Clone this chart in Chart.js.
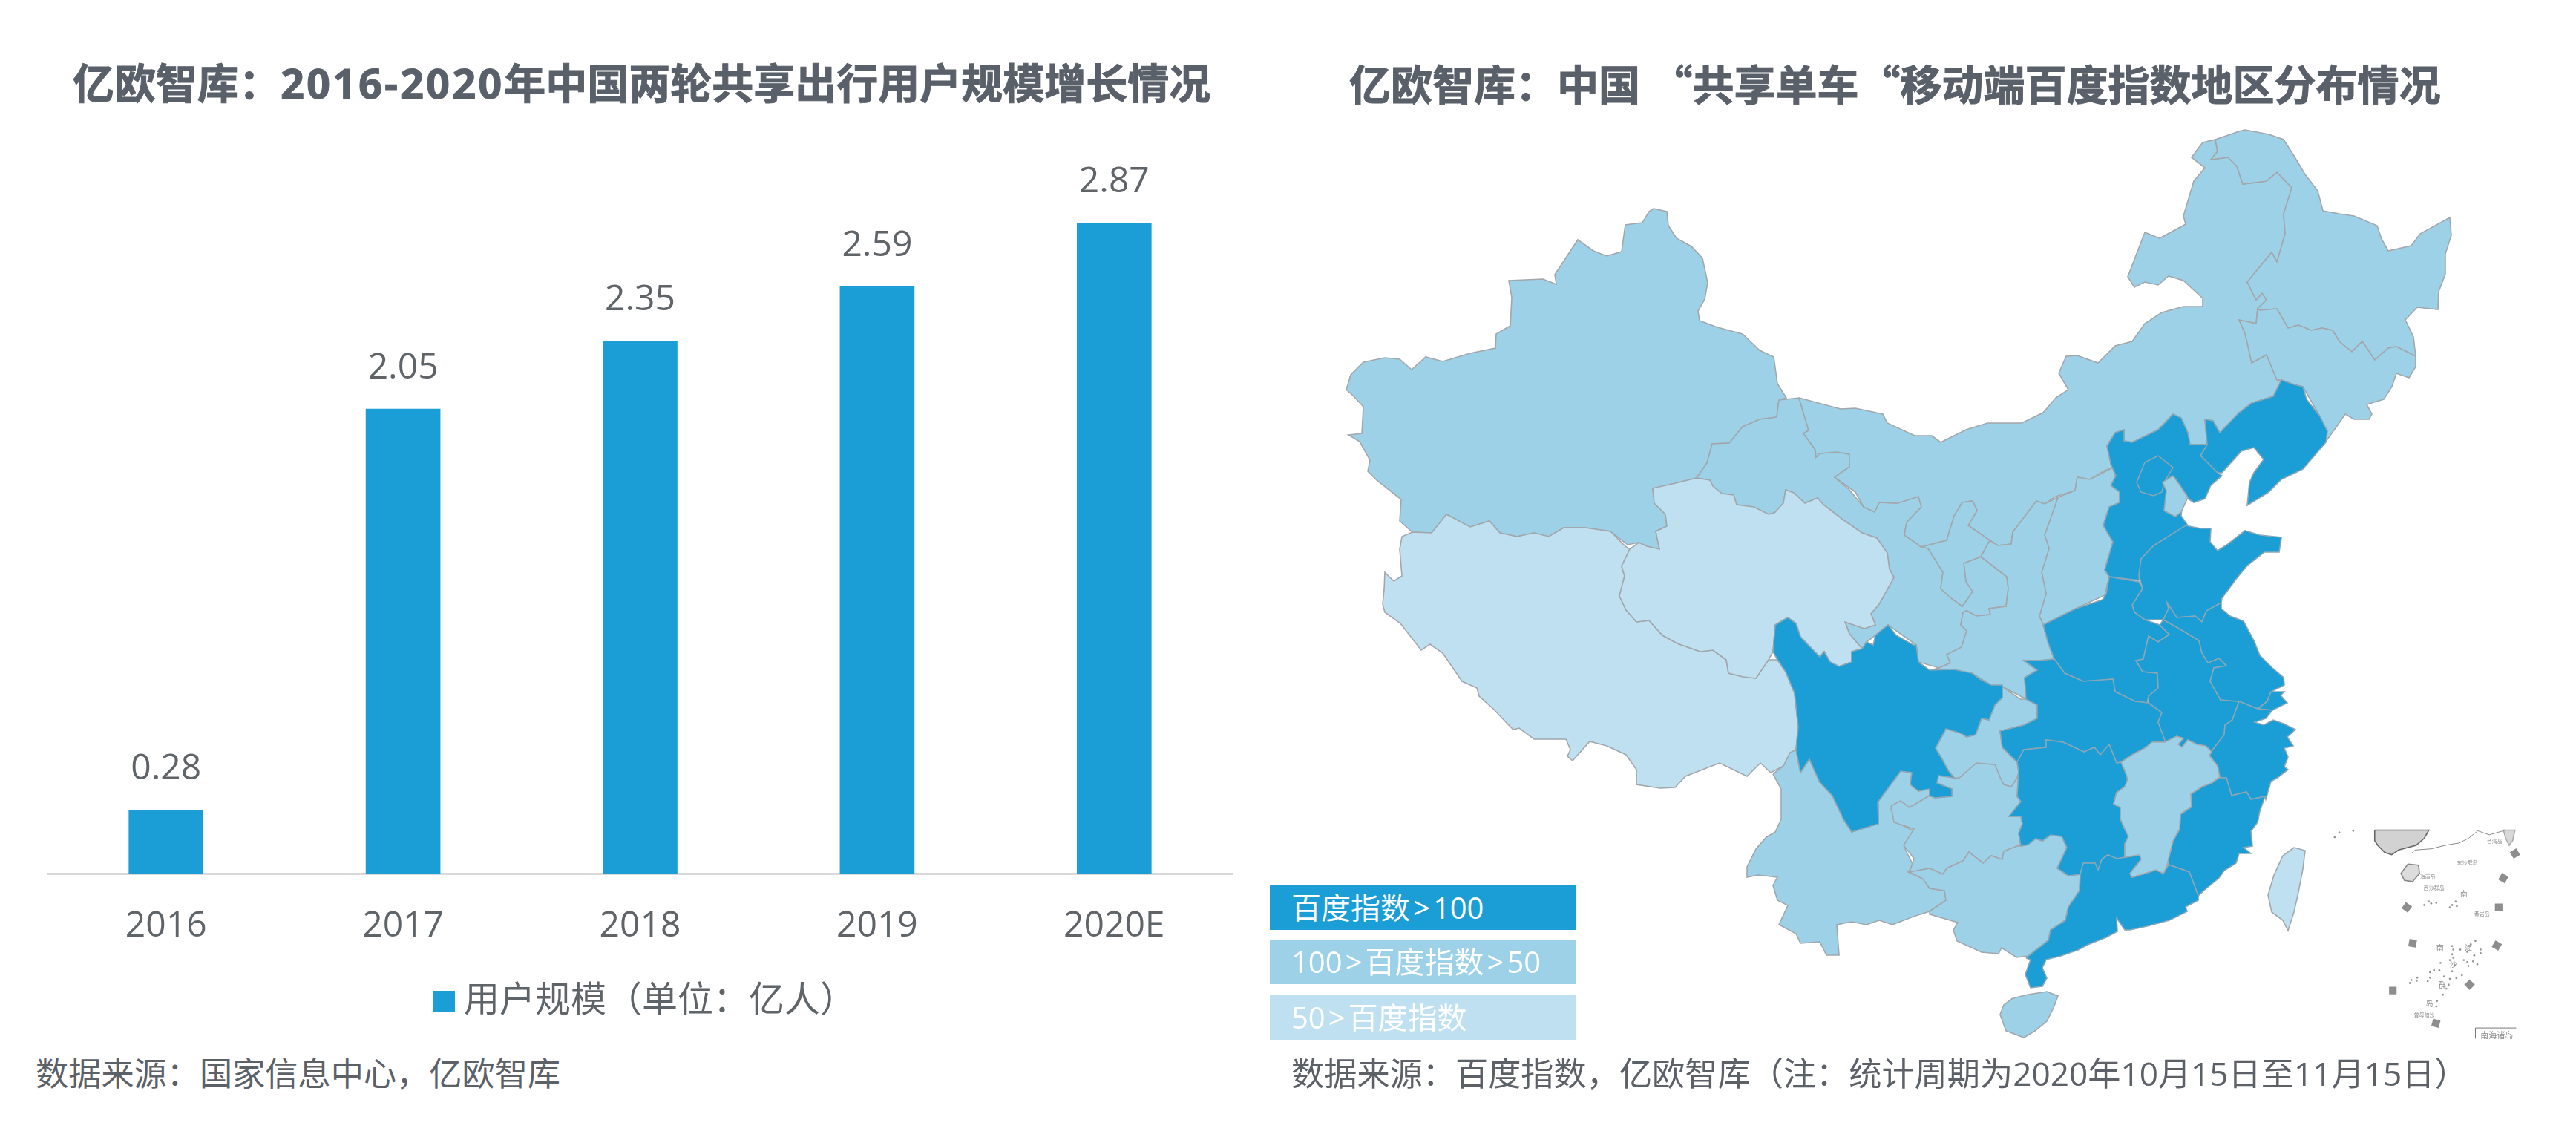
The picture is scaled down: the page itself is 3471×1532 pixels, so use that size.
<!DOCTYPE html>
<html lang="zh-CN">
<head>
<meta charset="utf-8">
<title>亿欧智库</title>
<script src="https://cdn.jsdelivr.net/npm/chart.js@4/dist/chart.umd.js"></script>
<style>
  html, body { margin: 0; padding: 0; background: #fff; }
  body { position: relative; width: 3471px; height: 1532px; overflow: hidden;
         font-family: "Open Sans", "Noto Sans CJK SC", sans-serif; }
  canvas { position: absolute; display: block; }
  .texto { position: absolute; white-space: nowrap; line-height: 1; }
  .titulo { font-size: 56px; font-weight: 700; color: #5a6069; top: 83px; -webkit-text-stroke: 1px #5a6069; }
  .titulo .cifra { letter-spacing: 3px; }
  .titulo .comilla { font-family: "Noto Sans CJK SC", sans-serif; }
  .fuente { font-size: 44.2px; color: #5c6168; top: 1424px; }
  .caja { position: absolute; left: 1711px; width: 413px; height: 60px; color: #fff;
          font-size: 40px; line-height: 60px; text-indent: 29px; white-space: nowrap; }
  .caja i { font-style: normal; margin: 0 4px; }
</style>
</head>
<body>
<div class="texto titulo" style="left:98px">亿欧智库：<span class="cifra">2016-2020</span>年中国两轮共享出行用户规模增长情况</div>
<div class="texto titulo" style="left:1818px">亿欧智库：中国 <span class="comilla">“</span>共享单车<span class="comilla">“</span>移动端百度指数地区分布情况</div>
<canvas id="barras" width="1736" height="1383" style="left:0;top:0"></canvas>
<canvas id="mapa" width="1660" height="1300" style="left:1700px;top:150px"></canvas>
<canvas id="islas" width="300" height="340" style="left:3130px;top:1090px;filter:blur(.5px)"></canvas>
<div class="caja" style="top:1193px;background:#1b9dd6">百度指数<i>&gt;</i>100</div>
<div class="caja" style="top:1266px;background:#9dd1e7">100<i>&gt;</i>百度指数<i>&gt;</i>50</div>
<div class="caja" style="top:1341px;background:#bfe0f1">50<i>&gt;</i>百度指数</div>
<div class="texto fuente" style="left:48px">数据来源：国家信息中心，亿欧智库</div>
<div class="texto fuente" style="left:1740px">数据来源：百度指数，亿欧智库（注：统计周期为2020年10月15日至11月15日）</div>

<script>
/* Bar chart data */
const years = ['2016', '2017', '2018', '2019', '2020E'];
const users = [0.28, 2.05, 2.35, 2.59, 2.87];
const seriesName = '用户规模（单位：亿人）';

/* Province outlines, read off the picture as x,y pairs. The map scale below
 * runs in picture units, so the library still places every vertex. */
const xinjiang = [2228,281, 2246,285, 2248,304, 2259,321, 2279,332, 2294,348, 2301,381, 2297,403, 2288,419, 2290,432, 2314,441, 2348,450, 2371,472, 2390,481, 2395,517, 2407,536, 2397,539, 2394,562, 2371,565, 2348,575, 2330,597, 2307,598, 2300,624, 2286,644, 2262,650, 2227,658, 2229,678, 2244,693, 2246,709, 2231,716, 2236,740, 2219,736, 2208,731, 2193,734, 2170,716, 2136,711, 2107,711, 2087,723, 2067,718, 2044,723, 2021,718, 2007,702, 1981,710, 1949,693, 1929,718, 1903,717, 1886,702, 1888,673, 1855,647, 1843,635, 1846,620, 1832,595, 1817,586, 1835,584, 1837,548, 1823,533, 1814,525, 1820,505, 1837,488, 1866,482, 1886,484, 1902,498, 1921,481, 1944,487, 1981,476, 2015,469, 2016,450, 2035,439, 2037,401, 2033,378, 2079,376, 2097,383, 2095,370, 2126,323, 2147,338, 2165,345, 2185,339, 2190,303, 2213,300, 2222,285];
const tibet = [1863,814, 1866,825, 1887,840, 1915,876, 1927,868, 1944,880, 1970,918, 1990,927, 1993,938, 2013,956, 2030,974, 2039,983, 2047,981, 2067,996, 2110,996, 2116,1010, 2112,1019, 2119,1025, 2142,999, 2165,1005, 2191,1017, 2205,1037, 2205,1057, 2237,1062, 2257,1061, 2271,1046, 2317,1028, 2354,1046, 2372,1028, 2386,1041, 2403,1032, 2412,1014, 2420,1010, 2423,979, 2418,934, 2406,905, 2395,889, 2383,889, 2366,914, 2349,912, 2329,907, 2326,889, 2308,876, 2291,878, 2260,867, 2240,856, 2222,836, 2205,838, 2191,822, 2182,803, 2189,776, 2185,763, 2196,740, 2190,736, 2170,716, 2136,711, 2107,711, 2087,723, 2067,718, 2044,723, 2021,718, 2007,702, 1981,710, 1949,693, 1929,718, 1903,717, 1889,723, 1886,740, 1889,776, 1878,783, 1866,771, 1865,794];
const qinghai = [2182,803, 2189,776, 2185,763, 2196,740, 2208,731, 2219,736, 2236,740, 2231,716, 2246,709, 2244,693, 2229,678, 2227,658, 2262,650, 2286,644, 2304,647, 2308,655, 2320,665, 2336,667, 2340,680, 2363,683, 2383,693, 2391,691, 2403,678, 2406,660, 2417,664, 2432,678, 2449,671, 2457,680, 2483,700, 2509,718, 2529,725, 2543,745, 2546,767, 2552,778, 2546,789, 2532,814, 2521,827, 2527,842, 2512,847, 2486,838, 2492,854, 2509,874, 2495,878, 2495,892, 2478,898, 2466,892, 2458,878, 2452,885, 2426,858, 2420,840, 2409,832, 2392,842, 2389,878, 2383,889, 2366,914, 2349,912, 2329,907, 2326,889, 2308,876, 2291,878, 2260,867, 2240,856, 2222,836, 2205,838, 2191,822];
const gansu = [2397,539, 2424,536, 2437,580, 2430,584, 2446,606, 2447,616, 2452,611, 2475,609, 2492,612, 2492,629, 2472,643, 2492,660, 2511,683, 2526,690, 2532,677, 2557,678, 2585,669, 2589,683, 2569,704, 2566,721, 2589,737, 2598,739, 2618,771, 2615,793, 2629,806, 2644,817, 2658,797, 2649,784, 2646,759, 2669,750, 2704,777, 2706,793, 2703,817, 2680,820, 2682,828, 2663,830, 2650,823, 2645,825, 2642,842, 2650,850, 2643,872, 2623,882, 2628,893, 2613,900, 2585,892, 2582,869, 2544,842, 2527,856, 2515,865, 2509,874, 2492,854, 2486,838, 2512,847, 2527,842, 2521,827, 2532,814, 2546,789, 2552,778, 2546,767, 2543,745, 2529,725, 2509,718, 2483,700, 2457,680, 2449,671, 2432,678, 2417,664, 2406,660, 2403,678, 2391,691, 2383,693, 2363,683, 2340,680, 2336,667, 2320,665, 2308,655, 2304,647, 2286,644, 2300,624, 2307,598, 2330,597, 2348,575, 2371,565, 2394,562];
const innerMongolia = [2424,536, 2480,551, 2500,550, 2537,558, 2543,570, 2580,587, 2603,587, 2615,596, 2649,579, 2678,570, 2724,570, 2753,556, 2770,536, 2787,525, 2774,503, 2784,480, 2799,479, 2827,489, 2850,466, 2873,460, 2890,436, 2913,421, 2942,413, 2968,413, 2968,402, 2942,378, 2922,372, 2908,384, 2890,380, 2876,387, 2867,373, 2890,313, 2910,321, 2945,302, 2942,291, 2956,244, 2971,226, 2953,212, 2968,192, 2985,188, 2988,204, 2979,215, 3002,212, 3014,224, 3022,248, 3054,244, 3068,232, 3088,253, 3077,288, 3079,315, 3068,353, 3061,340, 3028,380, 3040,404, 3048,395, 3054,404, 3042,416, 3040,436, 3017,431, 3025,449, 3034,489, 3054,478, 3068,512, 3074,512, 3063,534, 3034,543, 3017,556, 2991,583, 2982,567, 2971,565, 2974,599, 2951,599, 2948,583, 2939,563, 2928,558, 2908,579, 2873,596, 2862,594, 2862,579, 2850,583, 2839,601, 2847,630, 2836,634, 2816,646, 2799,643, 2796,661, 2770,669, 2755,679, 2744,675, 2712,717, 2710,733, 2692,735, 2681,728, 2652,708, 2664,688, 2658,675, 2644,677, 2633,695, 2623,728, 2589,737, 2566,721, 2569,704, 2589,683, 2585,669, 2557,678, 2532,677, 2526,690, 2511,683, 2500,663, 2472,643, 2492,629, 2492,612, 2475,609, 2452,611, 2447,616, 2446,606, 2430,584, 2437,580];
const heilongjiang = [2985,188, 3017,177, 3025,175, 3057,181, 3077,188, 3091,210, 3106,235, 3123,257, 3130,284, 3152,288, 3172,291, 3203,304, 3209,322, 3218,338, 3249,331, 3261,315, 3301,293, 3303,317, 3295,342, 3295,369, 3286,393, 3285,417, 3257,414, 3241,431, 3252,454, 3255,480, 3229,467, 3218,469, 3200,485, 3183,460, 3169,474, 3152,460, 3143,445, 3129,442, 3114,445, 3097,438, 3083,442, 3068,416, 3045,418, 3042,416, 3054,404, 3048,395, 3040,404, 3028,380, 3061,340, 3068,353, 3079,315, 3077,288, 3088,253, 3068,232, 3054,244, 3022,248, 3014,224, 3002,212, 2979,215, 2988,204];
const jilin = [3045,418, 3068,416, 3083,442, 3097,438, 3114,445, 3129,442, 3143,445, 3152,460, 3169,474, 3183,460, 3200,485, 3218,469, 3229,467, 3255,480, 3255,494, 3246,509, 3229,503, 3223,521, 3212,538, 3189,545, 3196,558, 3192,565, 3172,565, 3160,558, 3149,574, 3136,592, 3126,561, 3103,521, 3091,518, 3074,512, 3068,512, 3054,478, 3034,489, 3025,449, 3017,431, 3040,436, 3042,416];
const ningxia = [2644,677, 2658,675, 2664,688, 2652,708, 2681,728, 2669,750, 2646,759, 2649,784, 2658,797, 2644,817, 2629,806, 2615,793, 2618,771, 2598,739, 2589,737, 2623,728, 2633,695];
const shaanxi = [2744,675, 2755,679, 2773,670, 2755,721, 2761,739, 2751,771, 2757,800, 2748,830, 2753,842, 2760,867, 2768,888, 2747,890, 2727,890, 2745,903, 2728,913, 2730,942, 2698,925, 2683,923, 2657,907, 2600,903, 2613,900, 2628,893, 2623,882, 2643,872, 2650,850, 2642,842, 2645,825, 2650,823, 2663,830, 2682,828, 2680,820, 2703,817, 2706,793, 2704,777, 2669,750, 2681,728, 2692,735, 2710,733, 2712,717];
const shanxi = [2773,670, 2796,661, 2799,643, 2816,646, 2847,630, 2856,663, 2856,677, 2842,683, 2834,708, 2847,730, 2836,768, 2842,777, 2836,802, 2797,820, 2753,842, 2748,830, 2757,800, 2751,771, 2761,739, 2755,721];
const yunnan = [2389,1043, 2400,1063, 2400,1104, 2392,1121, 2380,1128, 2366,1144, 2354,1168, 2354,1182, 2369,1179, 2395,1182, 2389,1193, 2395,1213, 2409,1220, 2397,1246, 2420,1258, 2426,1271, 2452,1269, 2461,1287, 2478,1287, 2475,1246, 2495,1242, 2515,1246, 2532,1240, 2550,1246, 2578,1235, 2600,1228, 2622,1213, 2620,1200, 2600,1197, 2591,1184, 2571,1175, 2578,1166, 2567,1144, 2578,1119, 2555,1108, 2548,1090, 2558,1081, 2573,1088, 2600,1072, 2600,1063, 2585,1066, 2574,1057, 2576,1041, 2561,1039, 2530,1081, 2531,1110, 2495,1121, 2484,1104, 2469,1072, 2452,1054, 2438,1023, 2426,1041, 2420,1010, 2412,1014, 2403,1032];
const guizhou = [2548,1086, 2561,1079, 2573,1088, 2600,1072, 2607,1075, 2630,1073, 2630,1063, 2610,1055, 2612,1045, 2633,1048, 2640,1048, 2663,1028, 2688,1030, 2695,1047, 2700,1057, 2710,1060, 2718,1048, 2720,1040, 2718,1073, 2723,1080, 2707,1100, 2723,1100, 2725,1110, 2720,1123, 2723,1140, 2718,1140, 2700,1147, 2698,1158, 2683,1153, 2672,1163, 2653,1148, 2645,1160, 2623,1170, 2618,1178, 2600,1170, 2573,1175, 2579,1157, 2565,1139, 2579,1117, 2552,1108];
const chongqing = [2698,925, 2722,942, 2730,942, 2745,950, 2745,968, 2727,977, 2695,985, 2698,1007, 2718,1027, 2720,1040, 2718,1048, 2710,1060, 2700,1057, 2695,1047, 2688,1030, 2663,1028, 2640,1048, 2633,1048, 2625,1038, 2617,1023, 2608,1008, 2622,982, 2642,988, 2650,993, 2662,990, 2670,968, 2680,970, 2688,950, 2698,940];
const guangxi = [2573,1175, 2600,1170, 2618,1178, 2623,1170, 2645,1160, 2653,1148, 2672,1163, 2683,1153, 2698,1158, 2700,1147, 2718,1140, 2723,1140, 2733,1138, 2743,1130, 2752,1133, 2763,1125, 2778,1127, 2785,1142, 2772,1170, 2787,1180, 2803,1178, 2802,1200, 2787,1222, 2783,1240, 2763,1253, 2760,1267, 2733,1288, 2717,1290, 2697,1277, 2693,1285, 2670,1283, 2637,1268, 2632,1253, 2638,1243, 2600,1232, 2600,1228, 2622,1213, 2620,1200, 2600,1197, 2591,1184];
const jiangxi = [2858,1027, 2873,1017, 2890,1008, 2900,1000, 2917,1000, 2933,992, 2942,995, 2935,1003, 2940,1007, 2948,997, 2960,1003, 2972,1005, 2980,1013, 2977,1018, 2988,1032, 2991,1047, 2980,1055, 2967,1060, 2952,1070, 2953,1087, 2938,1097, 2937,1117, 2928,1133, 2922,1157, 2920,1167, 2915,1177, 2905,1172, 2890,1177, 2873,1182, 2870,1177, 2885,1158, 2883,1152, 2863,1155, 2863,1137, 2868,1127, 2863,1117, 2857,1103, 2857,1088, 2848,1083, 2852,1068, 2863,1060, 2867,1050, 2863,1038];
const hainan = [2712,1345, 2733,1340, 2758,1336, 2773,1342, 2767,1358, 2758,1376, 2742,1389, 2727,1398, 2703,1389, 2695,1367, 2700,1354];
const taiwan = [3091,1142, 3106,1146, 3103,1171, 3097,1202, 3091,1229, 3083,1254, 3076,1240, 3061,1229, 3056,1206, 3064,1179, 3076,1153];
const tianjin = [2928,641, 2936,652, 2948,670, 2939,690, 2931,696, 2916,688, 2919,661, 2914,650];
const sichuan = [2392,842, 2409,832, 2420,840, 2426,858, 2452,885, 2458,878, 2466,892, 2478,898, 2495,892, 2495,878, 2509,874, 2515,865, 2524,869, 2527,856, 2544,842, 2555,856, 2578,869, 2582,869, 2585,892, 2600,903, 2633,902, 2657,907, 2668,915, 2683,923, 2698,923, 2698,940, 2688,950, 2680,970, 2670,968, 2662,990, 2650,993, 2642,988, 2622,982, 2608,1008, 2617,1023, 2625,1038, 2633,1048, 2612,1045, 2610,1055, 2630,1063, 2630,1073, 2607,1075, 2600,1072, 2600,1063, 2585,1066, 2574,1057, 2576,1041, 2561,1039, 2530,1081, 2531,1110, 2495,1121, 2484,1104, 2469,1072, 2452,1054, 2438,1023, 2426,1041, 2420,1010, 2423,979, 2418,934, 2406,905, 2395,889, 2389,878];
const liaoning = [3074,512, 3091,518, 3103,521, 3108,538, 3126,561, 3136,581, 3134,596, 3103,632, 3074,646, 3057,663, 3028,681, 3031,650, 3037,637, 3050,619, 3037,603, 3020,608, 2994,637, 2988,637, 2965,614, 2974,599, 2971,565, 2982,567, 2991,583, 3017,556, 3034,543, 3063,534];
const hebei = [2850,583, 2862,579, 2862,594, 2873,596, 2908,579, 2928,558, 2939,563, 2948,583, 2951,599, 2974,599, 2965,614, 2988,637, 2994,641, 2979,654, 2971,672, 2956,677, 2942,668, 2939,695, 2948,708, 2902,735, 2885,753, 2882,782, 2842,777, 2836,768, 2847,730, 2834,708, 2842,683, 2856,677, 2856,663, 2844,654, 2851,641, 2844,625, 2839,601];
const beijing = [2908,614, 2928,630, 2916,650, 2913,663, 2902,668, 2885,663, 2879,650, 2890,623];
const shandong = [2882,775, 2885,753, 2902,735, 2945,708, 2965,712, 2979,712, 2978,730, 2988,742, 3002,733, 3025,715, 3045,721, 3074,724, 3071,744, 3051,744, 3028,762, 3014,779, 2994,806, 2993,812, 2973,823, 2967,838, 2958,830, 2933,832, 2920,812, 2922,820, 2915,835, 2890,835, 2876,825, 2873,815, 2887,793];
const henan = [2753,842, 2797,820, 2833,808, 2838,800, 2842,777, 2882,784, 2887,793, 2873,815, 2876,825, 2890,835, 2910,842, 2923,855, 2908,865, 2895,857, 2888,888, 2878,890, 2887,905, 2907,907, 2908,927, 2895,938, 2893,947, 2877,945, 2850,932, 2847,915, 2807,918, 2782,907, 2768,888, 2760,867];
const jiangsu = [2920,812, 2933,832, 2958,830, 2967,838, 2973,823, 2993,812, 2993,820, 3005,830, 3023,837, 3037,863, 3045,883, 3062,900, 3077,913, 3078,923, 3060,932, 3055,945, 3042,955, 3017,945, 2992,943, 2978,918, 2983,900, 3000,897, 2990,887, 2975,893, 2967,880, 2963,863, 2933,845, 2915,835, 2922,820];
const shanghai = [3060,932, 3078,932, 3073,937, 3082,947, 3062,957, 3042,955, 3055,945];
const anhui = [2915,835, 2933,845, 2963,863, 2967,880, 2975,893, 2990,887, 3000,897, 2983,900, 2978,918, 2992,943, 3017,945, 3008,970, 2998,977, 2997,990, 2980,1012, 2972,1005, 2960,1003, 2948,997, 2940,1007, 2935,1003, 2942,995, 2933,992, 2918,1000, 2908,973, 2913,960, 2895,947, 2895,938, 2908,927, 2907,907, 2887,905, 2878,890, 2888,888, 2895,857, 2908,865, 2923,855, 2910,842];
const zhejiang = [3017,945, 3042,955, 3062,957, 3053,968, 3038,973, 3050,977, 3063,970, 3077,975, 3093,983, 3082,993, 3090,1005, 3078,1008, 3083,1020, 3078,1033, 3083,1037, 3070,1047, 3060,1053, 3053,1077, 3052,1073, 3033,1077, 3027,1067, 3007,1072, 3000,1048, 2990,1048, 2991,1047, 2988,1032, 2977,1018, 2980,1012, 2997,990, 2998,977, 3008,970];
const fujian = [2952,1070, 2967,1060, 2980,1055, 2990,1048, 3000,1048, 3007,1072, 3027,1067, 3033,1077, 3052,1073, 3045,1093, 3042,1108, 3033,1120, 3035,1140, 3023,1142, 3033,1150, 3017,1150, 3013,1163, 2997,1173, 2990,1183, 2973,1197, 2962,1207, 2950,1175, 2922,1165, 2922,1157, 2928,1133, 2937,1117, 2938,1097, 2953,1087];
const hubei = [2695,985, 2727,977, 2745,968, 2745,950, 2730,942, 2728,913, 2745,903, 2727,890, 2747,890, 2768,888, 2782,907, 2807,918, 2847,915, 2850,932, 2877,945, 2895,947, 2913,960, 2908,973, 2918,1000, 2900,1000, 2890,1008, 2873,1017, 2858,1027, 2852,1028, 2842,1003, 2830,1017, 2822,1007, 2808,1013, 2780,1000, 2757,997, 2757,1007, 2727,1010, 2718,1027, 2698,1007];
const hunan = [2718,1027, 2727,1010, 2757,1007, 2757,997, 2780,1000, 2808,1013, 2822,1007, 2830,1017, 2842,1003, 2852,1028, 2858,1027, 2863,1038, 2867,1050, 2863,1060, 2852,1068, 2848,1083, 2857,1088, 2857,1103, 2863,1117, 2868,1127, 2863,1137, 2863,1155, 2853,1157, 2840,1152, 2832,1158, 2827,1172, 2823,1163, 2807,1163, 2803,1178, 2787,1180, 2772,1170, 2785,1142, 2778,1127, 2763,1125, 2752,1133, 2743,1130, 2733,1138, 2723,1140, 2720,1123, 2725,1110, 2723,1100, 2707,1100, 2723,1080, 2718,1073, 2720,1040];
const guangdong = [2730,1291, 2733,1288, 2760,1267, 2763,1253, 2783,1240, 2787,1222, 2802,1200, 2803,1178, 2807,1163, 2823,1163, 2827,1172, 2832,1158, 2840,1152, 2853,1157, 2863,1155, 2883,1152, 2885,1158, 2870,1177, 2873,1182, 2890,1177, 2905,1172, 2915,1177, 2922,1165, 2950,1175, 2962,1207, 2962,1213, 2945,1222, 2947,1228, 2923,1240, 2893,1248, 2870,1253, 2863,1253, 2852,1237, 2853,1255, 2838,1263, 2813,1273, 2800,1280, 2777,1288, 2757,1293, 2752,1304, 2758,1318, 2752,1329, 2736,1331, 2729,1313, 2736,1293];

// Drawn in this order, so the darker tiers sit on top of shared borders.
const tierMid = [xinjiang, gansu, innerMongolia, heilongjiang, jilin, shanxi, shaanxi, ningxia, yunnan, guizhou, chongqing, guangxi, hainan];
const tierLight = [tibet, qinghai, taiwan];
const tierDark = [sichuan, liaoning, hebei, beijing, shandong, henan, hubei, hunan, anhui, jiangsu, shanghai, zhejiang, fujian, guangdong];
const tierTop = [jiangxi, tianjin];

/* South China Sea inset, in its own units (906 x 1027). */
const insetLand = [197,65, 430,65, 410,100, 375,130, 300,150, 270,170, 240,160, 210,130, 197,110];
const insetHainan = [340,210, 385,215, 390,250, 360,285, 325,280, 310,250];
const insetTaiwan = [750,65, 800,65, 790,110, 775,130, 760,100];
const insetCoast = [355,165, 370,150, 440,145, 500,130, 560,120, 600,100, 640,68, 690,85, 760,65];
const insetDashes = [800,165, 750,270, 730,395, 335,395, 360,548, 722,558, 605,725, 275,750, 460,890];
const insetDashAngles = [60, 30, 0, 35, 10, 30, 45, 0, 15];
const insetDots = [25,95, 45,75, 105,68, 410,385, 430,370, 440,378, 462,376, 520,395, 530,385, 545,370, 550,390, 635,420, 530,560, 535,575, 565,575, 530,595, 535,610, 520,620, 540,640, 580,620, 595,628, 620,625, 638,638, 600,645, 480,632, 630,538, 652,575, 652,590, 625,600, 610,552, 595,585, 530,668, 475,663, 452,663, 435,672, 435,695, 425,710, 380,695, 378,708, 355,705, 348,718, 495,690, 520,700, 548,697, 572,685, 515,725, 505,742, 490,768, 465,795, 462,818];
const insetFrame = [630,955, 630,910, 805,910];
const insetLabels = ['南海诸岛', '海南岛', '东沙群岛', '西沙群岛', '黄岩岛', '曾母暗沙', '台湾岛', '南', '海', '南', '沙', '群', '岛'];
const insetLabelX = [722, 425, 595, 452, 658, 410, 712, 580, 600, 478, 535, 487, 432];
const insetLabelY = [945, 265, 205, 315, 425, 855, 115, 340, 570, 570, 640, 730, 810];

const COLOR_DARK = '#1b9dd6';
const COLOR_MID = '#9dd1e7';
const COLOR_LIGHT = '#bfe0f1';
const COLOR_BORDER = '#a2a7ab';
const COLOR_BORDER_DARK = '#8ba6b4';
const COLOR_TEXT = '#5f6469';
const FONT = '"Open Sans", "Noto Sans CJK SC", sans-serif';

const toPoints = (flat) => {
  const pts = [];
  for (let i = 0; i < flat.length; i += 2) pts.push({ x: flat[i], y: flat[i + 1] });
  return pts;
};
// closes the ring so the border comes back to the first vertex
const ring = (flat) => toPoints(flat.concat(flat.slice(0, 2)));

const shape = (flat, fillColor, line) => ({
  data: ring(flat), showLine: true, fill: 'shape', tension: 0, pointRadius: 0,
  backgroundColor: fillColor, borderColor: line || COLOR_BORDER, borderWidth: 1.6,
});

// Hidden axes that run in picture units
const plainAxes = (x0, x1, y0, y1) => ({
  x: { type: 'linear', display: false, min: x0, max: x1 },
  y: { type: 'linear', display: false, min: y0, max: y1, reverse: true },
});

const baseOptions = {
  responsive: false, animation: false, devicePixelRatio: 1, events: [],
  plugins: { legend: { display: false }, tooltip: { enabled: false } },
};

/* Values above the bars */
const barValues = {
  id: 'barValues',
  afterDatasetsDraw(chart) {
    const { ctx } = chart;
    ctx.save();
    ctx.font = '48px ' + FONT;
    ctx.fillStyle = COLOR_TEXT;
    ctx.textAlign = 'center';
    ctx.textBaseline = 'middle';
    chart.getDatasetMeta(0).data.forEach((bar, i) => {
      ctx.fillText(users[i].toFixed(2), bar.x, bar.y - 55);
    });
    ctx.restore();
  },
};

// Legend swatch: the blank left part moves the square closer to its label
const swatch = document.createElement('canvas');
swatch.width = 53;
swatch.height = 29;
const swatchCtx = swatch.getContext('2d');
swatchCtx.fillStyle = COLOR_DARK;
swatchCtx.fillRect(24, 0, 29, 29);

new Chart(document.getElementById('barras'), {
  type: 'bar',
  data: {
    labels: years,
    datasets: [{ label: seriesName, data: users, backgroundColor: COLOR_DARK, barThickness: 100 }],
  },
  options: {
    ...baseOptions,
    layout: { padding: { left: 64, right: 75, top: 261, bottom: 0 } },
    scales: {
      x: {
        grid: { display: false, drawTicks: false },
        border: { color: '#d9d9d9', width: 3 },
        ticks: { color: COLOR_TEXT, font: { family: FONT, size: 48 }, padding: 43, maxRotation: 0 },
        afterFit: (s) => { s.height = 128; },
      },
      y: { display: false, min: 0, max: 3 },
    },
    plugins: {
      tooltip: { enabled: false },
      legend: {
        position: 'bottom',
        labels: {
          color: COLOR_TEXT, usePointStyle: true, pointStyle: swatch, pointStyleWidth: 29,
          boxHeight: 29, padding: 20, font: { family: FONT, size: 48 },
        },
      },
    },
  },
  plugins: [barValues],
});

/* Chart.js paints the last dataset first, so the list is reversed */
const layers = [
  ...tierMid.map((p) => shape(p, COLOR_MID)),
  ...tierLight.map((p) => shape(p, COLOR_LIGHT)),
  ...tierDark.map((p) => shape(p, COLOR_DARK, COLOR_BORDER_DARK)),
  ...tierTop.map((p) => shape(p, COLOR_MID)),
].reverse();

new Chart(document.getElementById('mapa'), {
  type: 'scatter',
  data: { datasets: layers },
  options: { ...baseOptions, scales: plainAxes(1700, 3360, 150, 1450) },
});

const insetText = {
  id: 'insetText',
  afterDatasetsDraw(chart) {
    const { ctx, scales } = chart;
    ctx.save();
    ctx.fillStyle = '#8f8f8f';
    ctx.textAlign = 'center';
    ctx.textBaseline = 'middle';
    insetLabels.forEach((txt, i) => {
      ctx.font = (i === 0 ? '11px ' : (i > 6 ? '10px ' : '7px ')) + FONT;
      ctx.fillText(txt, scales.x.getPixelForValue(insetLabelX[i]), scales.y.getPixelForValue(insetLabelY[i]));
    });
    ctx.restore();
  },
};

new Chart(document.getElementById('islas'), {
  type: 'scatter',
  data: {
    datasets: [
      { data: toPoints(insetDots), pointRadius: 1.2, backgroundColor: '#9a9a9a' },
      { data: toPoints(insetDashes), pointStyle: 'rect', pointRadius: 7, rotation: insetDashAngles, backgroundColor: '#8e8e8e' },
      { data: toPoints(insetFrame), showLine: true, tension: 0, pointRadius: 0, borderColor: '#777', borderWidth: 1 },
      { data: toPoints(insetCoast), showLine: true, tension: 0, pointRadius: 0, borderColor: '#8a8a8a', borderWidth: 1 },
      shape(insetTaiwan, '#d8d8d8', '#aaa'),
      shape(insetHainan, '#dcdcdc', '#888'),
      shape(insetLand, '#d2d2d2', '#666'),
    ],
  },
  options: { ...baseOptions, scales: plainAxes(0, 906, 0, 1027) },
  plugins: [insetText],
});
</script>
</body>
</html>
